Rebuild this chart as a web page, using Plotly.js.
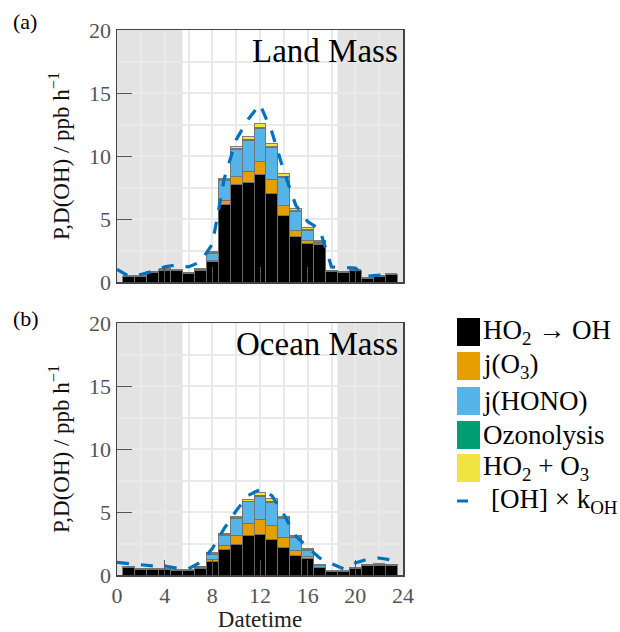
<!DOCTYPE html>
<html>
<head>
<meta charset="utf-8">
<script src="https://cdn.plot.ly/plotly-3.0.1.min.js"></script>
<style>html,body{margin:0;padding:0;background:#fff;}#chart{width:620px;height:632px;}</style>
</head>
<body>
<div id="chart"></div>
<script>
// ---- data ----
const hours = [1,2,3,4,5,6,7,8,9,10,11,12,13,14,15,16,17,18,19,20,21,22,23];
const lineHours = [0,1,2,3,4,5,6,7,8,9,10,11,12,13,14,15,16,17,18,19,20,21,22,23];

// (a) Land Mass
const landHO2toOH = [0.42,0.42,0.74,0.92,0.88,0.68,0.93,1.6,6.15,7.7,7.9,8.5,7.05,5.25,3.6,3.07,2.94,0.82,0.74,0.88,0.29,0.42,0.56];
const landJO3     = [0,0,0,0,0,0,0.01,0.08,0.35,0.65,0.9,1.1,1.1,0.8,0.47,0.2,0.1,0,0,0,0,0,0];
const landJHONO   = [0,0,0.02,0.02,0.02,0.02,0.04,0.6,1.55,2.15,2.45,2.55,2.5,2.25,1.5,0.85,0.1,0.02,0.02,0.02,0.02,0.02,0.02];
const landOzonolysis = [0.04,0.04,0.05,0.06,0.05,0.05,0.05,0.05,0.05,0.07,0.08,0.1,0.08,0.08,0.08,0.07,0.06,0.05,0.05,0.04,0.04,0.04,0.05];
const landHO2O3   = [0.03,0.03,0.03,0.04,0.03,0.03,0.05,0.08,0.1,0.15,0.18,0.3,0.25,0.2,0.2,0.15,0.1,0.06,0.06,0.03,0.03,0.03,0.04];
const landOHk     = [1.0,0.45,0.6,0.85,1.2,1.35,1.2,1.6,3.0,8.2,11.3,12.9,14.1,11.9,8.8,6.1,4.8,4.2,1.2,1.15,1.1,0.45,0.55,0.8];

// (b) Ocean Mass
const oceanHO2toOH = [0.58,0.45,0.45,0.4,0.34,0.32,0.53,1.11,2.04,2.43,3.15,3.23,2.83,2.22,1.51,1.32,0.61,0.26,0.26,0.53,0.74,0.79,0.74];
const oceanJO3     = [0,0,0,0,0,0,0.01,0.13,0.34,0.72,0.95,1.19,1.06,0.77,0.42,0.14,0.02,0,0,0,0,0,0];
const oceanJHONO   = [0.03,0.02,0.02,0.02,0.02,0.02,0.06,0.4,0.77,1.33,1.7,1.82,1.9,1.49,1.04,0.5,0.1,0.02,0.02,0.03,0.03,0.03,0.03];
const oceanOzonolysis = [0.05,0.03,0.03,0.03,0.03,0.03,0.05,0.05,0.05,0.05,0.06,0.07,0.07,0.06,0.05,0.05,0.03,0.03,0.03,0.03,0.04,0.04,0.04];
const oceanHO2O3   = [0.05,0.03,0.03,0.03,0.03,0.03,0.03,0.08,0.1,0.1,0.15,0.22,0.2,0.12,0.12,0.1,0.05,0.03,0.03,0.03,0.04,0.04,0.04];
const oceanOHk     = [1.0,0.92,0.85,0.72,0.72,0.55,0.5,1.0,2.1,3.7,5.1,6.3,6.8,6.3,4.8,3.1,2.2,1.35,0.9,0.5,0.95,1.25,1.35,1.2];

const seriesNames = ['HO<sub>2</sub> \u2192 OH','j(O<sub>3</sub>)','j(HONO)','Ozonolysis','HO<sub>2</sub> + O<sub>3</sub>'];
const lineName = '[OH] \u00d7 k<sub>OH</sub>';
const colors = ['#000000','#E69F00','#56B4E9','#009E73','#F0E442'];
const lineColor = '#0072BD';
const xTicks = [0,4,8,12,16,20,24];
const yTicks = [0,5,10,15,20];

// ---- build ----
const FONT = '"Liberation Serif", "Times New Roman", serif';
const traces = [];
function addPanel(stacks, lineVals, xa, ya) {
  stacks.forEach((vals, i) => {
    traces.push({type:'bar', x:hours, y:vals, xaxis:xa, yaxis:ya, name:seriesNames[i],
      marker:{color:colors[i], line:{color:'#707070', width:0.9}}, width:1, showlegend:false, hoverinfo:'skip'});
  });
  traces.push({type:'scatter', mode:'lines', x:lineHours, y:lineVals, xaxis:xa, yaxis:ya, name:lineName,
    line:{color:lineColor, width:3.2, dash:'12px,12px'}, showlegend:false, hoverinfo:'skip'});
}
addPanel([landHO2toOH,landJO3,landJHONO,landOzonolysis,landHO2O3], landOHk, 'x', 'y');
addPanel([oceanHO2toOH,oceanJO3,oceanJHONO,oceanOzonolysis,oceanHO2O3], oceanOHk, 'x2', 'y2');

const W = 620, H = 632, mL = 117, mR = 217, mT = 30, mB = 57;
const pw = W - mL - mR, ph = H - mT - mB;
const px = v => (v - mL) / pw;
const py = v => (H - mB - v) / ph;

const gridC = '#e9e9e9';
function xaxisDef(anchor, showLabels, title) {
  return {anchor:anchor, range:[0,24], domain:[0,1], tickvals:xTicks, ticktext:xTicks.map(String),
    showticklabels:showLabels, ticks:'inside', ticklen:15, tickwidth:1, tickcolor:'#555',
    showline:true, linecolor:'#444', linewidth:1.5, mirror:true,
    showgrid:true, gridcolor:gridC, gridwidth:2, zeroline:false,
    minor:{dtick:2, tick0:0, showgrid:true, gridcolor:gridC, gridwidth:2, ticks:''},
    tickfont:{family:FONT, size:22, color:'#555'},
    title: title ? {text:title, font:{family:FONT, size:23, color:'#222'}, standoff:6} : undefined};
}
function yaxisDef(anchor, domain) {
  return {anchor:anchor, domain:domain, range:[0,20], tickvals:yTicks, ticktext:yTicks.map(String),
    ticks:'inside', ticklen:15, tickwidth:1, tickcolor:'#555',
    showline:true, linecolor:'#444', linewidth:1.5, mirror:true,
    showgrid:true, gridcolor:gridC, gridwidth:2, zeroline:false,
    minor:{dtick:2.5, tick0:0, showgrid:true, gridcolor:gridC, gridwidth:2, ticks:''},
    tickfont:{family:FONT, size:22, color:'#555'},
    title:{text:'P,D(OH) / ppb h<sup>\u22121</sup>', font:{family:FONT, size:23, color:'#111'}, standoff:13}};
}

const shapes = [];
[['x','y'],['x2','y2']].forEach(([xa,ya]) => {
  shapes.push({type:'rect', xref:xa, yref:ya, x0:0, x1:5.5, y0:0, y1:20, fillcolor:'#e3e3e3', line:{width:0}, layer:'below'});
  shapes.push({type:'rect', xref:xa, yref:ya, x0:18.5, x1:24, y0:0, y1:20, fillcolor:'#e3e3e3', line:{width:0}, layer:'below'});
});

const annotations = [
  {xref:'x', yref:'y', x:24, y:20, xanchor:'right', yanchor:'top', xshift:-3, yshift:-1, showarrow:false,
   text:'Land Mass', font:{family:FONT, size:33, color:'#000'}},
  {xref:'x2', yref:'y2', x:24, y:20, xanchor:'right', yanchor:'top', xshift:-3, yshift:-1, showarrow:false,
   text:'Ocean Mass', font:{family:FONT, size:33, color:'#000'}},
  {xref:'paper', yref:'paper', x:px(11), y:py(21), xanchor:'left', yanchor:'middle', showarrow:false,
   text:'(a)', font:{family:FONT, size:22, color:'#000'}},
  {xref:'paper', yref:'paper', x:px(11), y:py(318), xanchor:'left', yanchor:'middle', showarrow:false,
   text:'(b)', font:{family:FONT, size:22, color:'#000'}}
];

// legend (drawn manually)
const rowY = [332, 366, 401, 435, 468, 501];
const legLabels = seriesNames.concat([lineName]);
legLabels.forEach((lab, i) => {
  if (i < 5) {
    shapes.push({type:'rect', xref:'paper', yref:'paper', x0:px(457), x1:px(480), y0:py(rowY[i]+14), y1:py(rowY[i]-14),
      fillcolor:colors[i], line:{width:0}});
  } else {
    shapes.push({type:'line', xref:'paper', yref:'paper', x0:px(457), x1:px(468), y0:py(rowY[i]), y1:py(rowY[i]),
      line:{color:lineColor, width:3}});
  }
  annotations.push({xref:'paper', yref:'paper', x:px(i < 5 ? 481 : 489), y:py(rowY[i]), xanchor:'left', yanchor:'middle',
    showarrow:false, text:lab, font:{family:FONT, size:27, color:'#000'}});
});

const layout = {
  width:W, height:H, margin:{l:mL, r:mR, t:mT, b:mB},
  paper_bgcolor:'#fff', plot_bgcolor:'#fff',
  barmode:'stack', bargap:0, showlegend:false,
  xaxis: xaxisDef('y', false, null),
  yaxis: yaxisDef('x', [py(282), 1]),
  xaxis2: xaxisDef('y2', true, 'Datetime'),
  yaxis2: yaxisDef('x2', [0, py(323)]),
  shapes: shapes, annotations: annotations,
  font:{family:FONT}
};
Plotly.newPlot('chart', traces, layout, {staticPlot:true});
</script>
</body>
</html>
